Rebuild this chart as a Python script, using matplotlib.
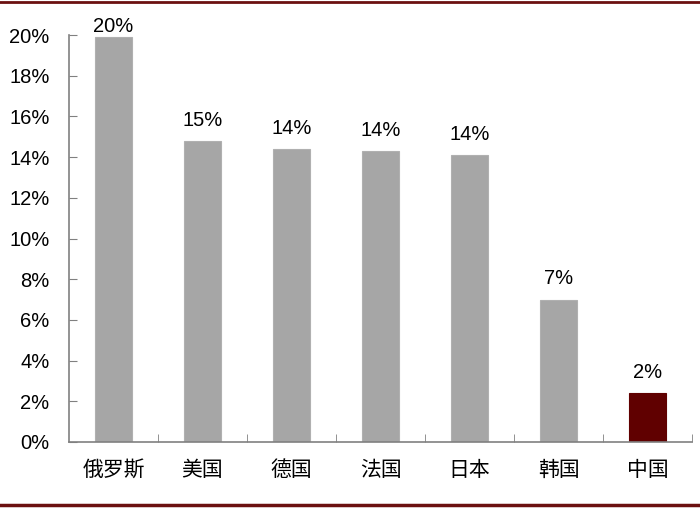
import matplotlib
matplotlib.use("Agg")
import matplotlib.pyplot as plt
from matplotlib.ticker import FuncFormatter, FixedLocator
from matplotlib.lines import Line2D

plt.rcParams['font.family'] = ['Liberation Sans', 'Noto Sans CJK SC', 'DejaVu Sans']

countries = ['俄罗斯', '美国', '德国', '法国', '日本', '韩国', '中国']
shares = [19.9, 14.8, 14.4, 14.3, 14.1, 7.0, 2.4]
labels = ['20%', '15%', '14%', '14%', '14%', '7%', '2%']

grey = '#A6A6A6'
dark_red = '#600000'
axis_col = '#808080'

fig = plt.figure(figsize=(7, 5.08), dpi=100)
ax = fig.add_axes([0.0986, 0.13, 0.89, 0.801])

x = list(range(len(countries)))
colors = [grey] * (len(countries) - 1) + [dark_red]
ax.bar(x, shares, width=0.41, color=colors, edgecolor=['#B0B0B0'] * 6 + [dark_red], linewidth=0.8)

# labels sit above the bars but stay inside the plot area
for xi, v, lab in zip(x, shares, labels):
    ax.text(xi, min(v + 0.55, 19.95), lab, ha='center', va='bottom', fontsize=14.5)

ax.set_xlim(-0.5, len(countries) - 0.5)
ax.set_ylim(0, 20)
ax.set_yticks(range(0, 21, 2))
ax.yaxis.set_major_formatter(FuncFormatter(lambda v, p: f'{v:.0f}%'))
ax.tick_params(axis='y', direction='in', length=6, color=axis_col, labelsize=14.5, pad=14)

# category labels between boundary ticks
ax.set_xticks(x)
ax.set_xticklabels(countries, fontfamily=['Noto Sans CJK SC'], fontsize=15)
ax.tick_params(axis='x', length=0, pad=12)
ax.xaxis.set_minor_locator(FixedLocator([i + 0.5 for i in x]))
ax.tick_params(axis='x', which='minor', direction='in', length=6, color=axis_col)

for s in ['top', 'right']:
    ax.spines[s].set_visible(False)
for s in ['left', 'bottom']:
    ax.spines[s].set_color(axis_col)
    ax.spines[s].set_linewidth(1.2)

# dark red rules at the top and bottom of the figure
fig.add_artist(Line2D([0, 1], [0.996, 0.996], color='#6B1010', linewidth=2, transform=fig.transFigure))
fig.add_artist(Line2D([0, 1], [0.006, 0.006], color='#6B1010', linewidth=2.5, transform=fig.transFigure))

fig.savefig('out.png', dpi=100)
